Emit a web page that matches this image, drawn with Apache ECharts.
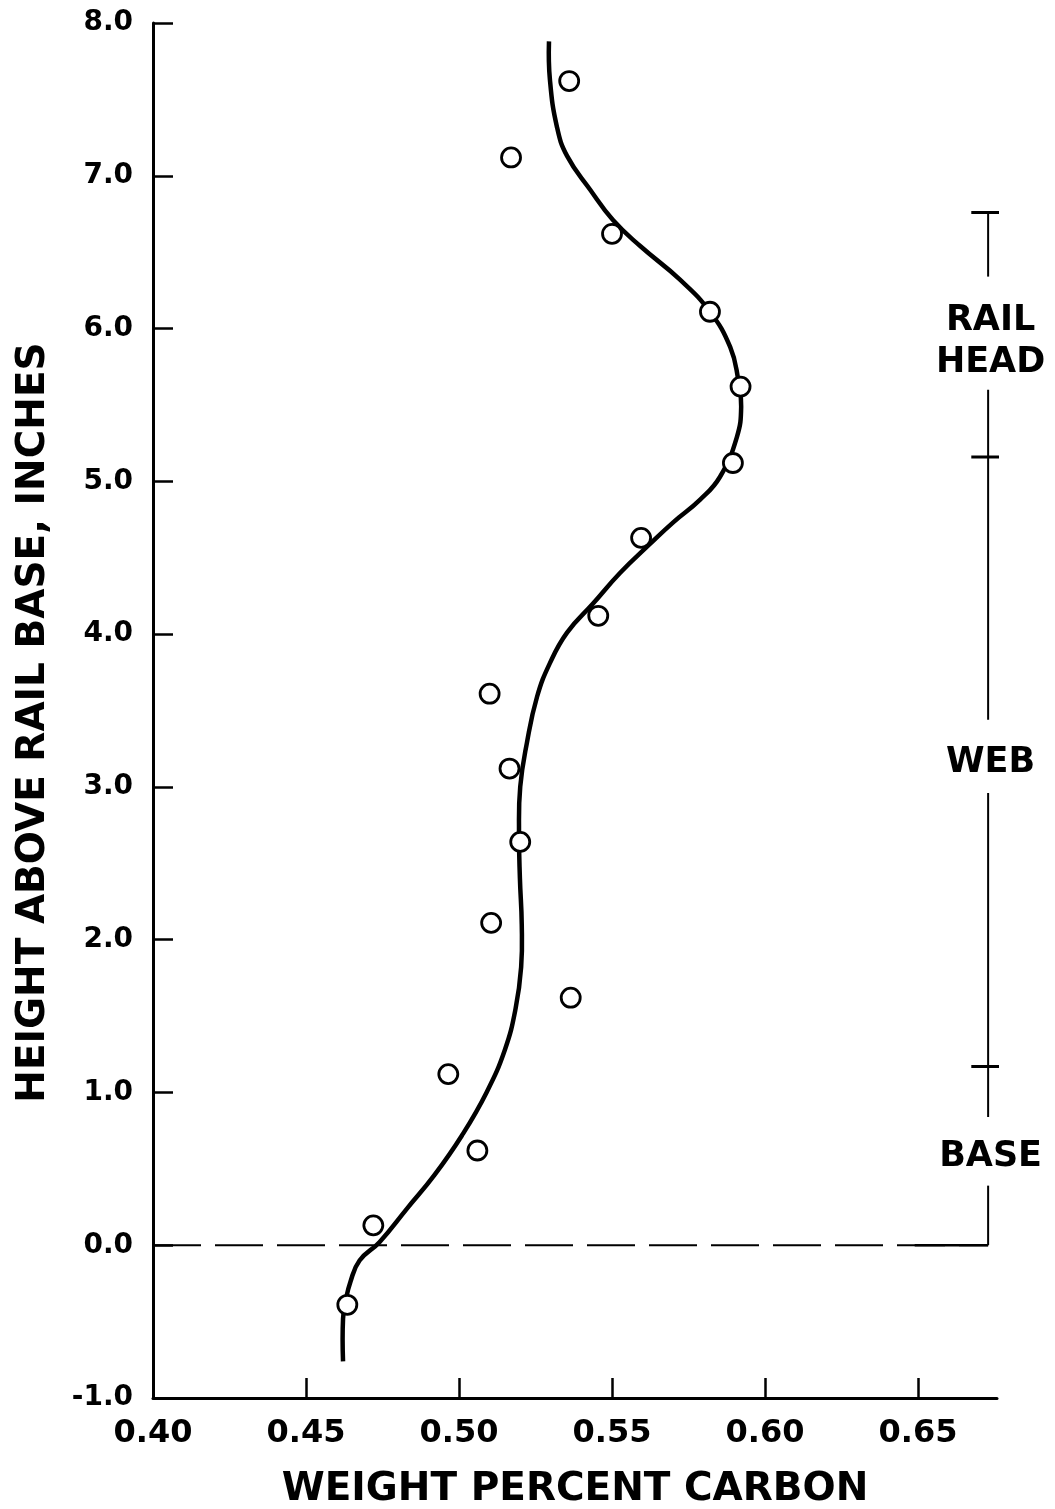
<!DOCTYPE html>
<html>
<head>
<meta charset="utf-8">
<script src="https://cdn.jsdelivr.net/npm/echarts@6/dist/echarts.min.js"></script>
<style>
  html, body { margin: 0; padding: 0; background: #fff; }
  #chart { width: 1055px; height: 1509px; }
</style>
</head>
<body>
<div id="chart"></div>
<script>
// 测量点 (碳含量, 高度)
var pointCarbon = [0.536, 0.517, 0.550, 0.582, 0.592, 0.5895, 0.5595, 0.5455, 0.510, 0.5165, 0.520, 0.5105, 0.5365, 0.4965, 0.506, 0.472, 0.4635];
var pointHeight = [7.62, 7.12, 6.62, 6.11, 5.62, 5.12, 4.63, 4.12, 3.61, 3.12, 2.64, 2.11, 1.62, 1.12, 0.62, 0.13, -0.39];

// 拟合曲线 (从上到下)
var curveCarbon = [0.5294, 0.5297, 0.5320, 0.5353, 0.5428, 0.5503, 0.5592, 0.5722, 0.5820, 0.5886, 0.5912, 0.5922, 0.5908, 0.5853, 0.5788, 0.5699, 0.5624, 0.5526, 0.5438, 0.5353, 0.5297, 0.5255, 0.5222, 0.5200, 0.5196, 0.5199, 0.5205, 0.5203, 0.5185, 0.5150, 0.5090, 0.5010, 0.4920, 0.4830, 0.4740, 0.4675, 0.4645, 0.4630, 0.4621, 0.4621];
var curveHeight = [7.88, 7.63, 7.32, 7.13, 6.91, 6.71, 6.54, 6.32, 6.11, 5.88, 5.67, 5.49, 5.29, 5.03, 4.88, 4.73, 4.59, 4.40, 4.20, 4.01, 3.81, 3.59, 3.29, 3.00, 2.70, 2.40, 2.10, 1.82, 1.55, 1.28, 1.00, 0.72, 0.46, 0.24, 0.02, -0.10, -0.24, -0.36, -0.48, -0.76];

// 坐标轴刻度
var xTickValues = [0.40, 0.45, 0.50, 0.55, 0.60, 0.65];
var xTickLabels = ['0.40', '0.45', '0.50', '0.55', '0.60', '0.65'];
var yTickValues = [-1, 0, 1, 2, 3, 4, 5, 6, 7, 8];
var yTickLabels = ['-1.0', '0.0', '1.0', '2.0', '3.0', '4.0', '5.0', '6.0', '7.0', '8.0'];

// 右侧区域标注
var regionNames = ['RAIL\nHEAD', 'WEB', 'BASE'];
var regionLabelHeight = [5.915, 3.155, 0.575];
var bracketCarbon = 0.6729;
var bracketSegments = [[6.76, 6.34], [5.60, 3.44], [2.96, 0.84], [0.39, 0.0]];
var bracketCaps = [6.76, 5.16, 1.17];
var zeroLineCarbon = [0.40, 0.6729];

var FONT = 'DejaVu Sans';
var myChart = echarts.init(document.getElementById('chart'), null, { renderer: 'canvas' });

var series = [];

// 零线 (虚线)
series.push({
  type: 'line',
  data: zeroLineCarbon.map(function (x) { return [x, 0]; }),
  symbol: 'none',
  silent: true,
  clip: false,
  lineStyle: { color: '#000', width: 2, type: [48, 14] },
  z: 1
});

// 区域竖线
bracketSegments.forEach(function (seg) {
  series.push({
    type: 'line',
    data: [[bracketCarbon, seg[0]], [bracketCarbon, seg[1]]],
    symbol: 'none',
    silent: true,
    clip: false,
    lineStyle: { color: '#000', width: 2 },
    z: 1
  });
});
// 区域分隔横线
bracketCaps.forEach(function (h) {
  series.push({
    type: 'line',
    data: [[bracketCarbon - 0.0055, h], [bracketCarbon + 0.0055, h]],
    symbol: 'none',
    silent: true,
    clip: false,
    lineStyle: { color: '#000', width: 3 },
    z: 1
  });
});
// 区域底部连接
series.push({
  type: 'line',
  data: [[bracketCarbon - 0.024, 0.0], [bracketCarbon, 0.0]],
  symbol: 'none',
  silent: true,
  clip: false,
  lineStyle: { color: '#000', width: 2.5 },
  z: 1
});

// 区域文字
series.push({
  type: 'scatter',
  data: regionNames.map(function (n, i) { return { value: [bracketCarbon + 0.0008, regionLabelHeight[i]], name: n }; }),
  symbolSize: 1,
  itemStyle: { color: 'rgba(0,0,0,0)', opacity: 1 },
  clip: false,
  silent: true,
  label: {
    show: true,
    position: 'inside',
    formatter: '{b}',
    color: '#000',
    opacity: 1,
    fontFamily: FONT,
    fontWeight: 'bold',
    fontSize: 35,
    lineHeight: 42
  },
  z: 5
});

// 拟合曲线 (自定义系列, 不受折线平滑约束影响)
series.push({
  type: 'custom',
  data: [[curveCarbon[0], curveHeight[0]]],
  clip: false,
  silent: true,
  renderItem: function (params, api) {
    if (params.dataIndex !== 0) return;
    var pts = curveCarbon.map(function (x, i) { return api.coord([x, curveHeight[i]]); });
    return {
      type: 'polyline',
      shape: { points: pts, smooth: 0.45 },
      style: { stroke: '#000', lineWidth: 4.5, fill: null, lineJoin: 'round', lineCap: 'butt' },
      silent: true
    };
  },
  z: 3
});

// 测量点
series.push({
  type: 'scatter',
  data: pointCarbon.map(function (x, i) { return [x, pointHeight[i]]; }),
  symbol: 'circle',
  symbolSize: 19,
  itemStyle: { color: '#fff', borderColor: '#000', borderWidth: 2.8, opacity: 1 },
  silent: true,
  z: 4
});

var option = {
  backgroundColor: '#fff',
  animation: false,
  grid: { left: 153, right: 58, top: 23, bottom: 111, outerBoundsMode: 'none', containLabel: false },
  xAxis: {
    type: 'value',
    min: 0.40,
    max: 0.6758,
    name: 'WEIGHT PERCENT CARBON',
    nameLocation: 'middle',
    nameGap: 72,
    nameTextStyle: { color: '#000', fontFamily: FONT, fontWeight: 'bold', fontSize: 39 },
    axisLine: { show: true, onZero: false, lineStyle: { color: '#000', width: 3 } },
    axisTick: { show: true, inside: true, length: 20, customValues: xTickValues, lineStyle: { color: '#000', width: 2.5 } },
    axisLabel: {
      customValues: xTickValues,
      margin: 20,
      color: '#000',
      fontFamily: FONT,
      fontWeight: 'bold',
      fontSize: 32,
      formatter: function (v) { return xTickLabels[xTickValues.indexOf(v)] || v.toFixed(2); }
    },
    splitLine: { show: false }
  },
  yAxis: {
    type: 'value',
    min: -1,
    max: 8,
    interval: 1,
    name: 'HEIGHT ABOVE RAIL BASE, INCHES',
    nameLocation: 'middle',
    nameGap: 100,
    nameRotate: 90,
    nameTextStyle: { color: '#000', fontFamily: FONT, fontWeight: 'bold', fontSize: 39, padding: [0, 24, 0, 0] },
    axisLine: { show: true, onZero: false, lineStyle: { color: '#000', width: 3 } },
    axisTick: { show: true, inside: true, length: 20, lineStyle: { color: '#000', width: 2.5 } },
    axisLabel: {
      margin: 20,
      color: '#000',
      fontFamily: FONT,
      fontWeight: 'bold',
      fontSize: 28,
      formatter: function (v) { return yTickLabels[yTickValues.indexOf(v)] || v.toFixed(1); }
    },
    splitLine: { show: false }
  },
  series: series
};

myChart.setOption(option);
</script>
</body>
</html>
